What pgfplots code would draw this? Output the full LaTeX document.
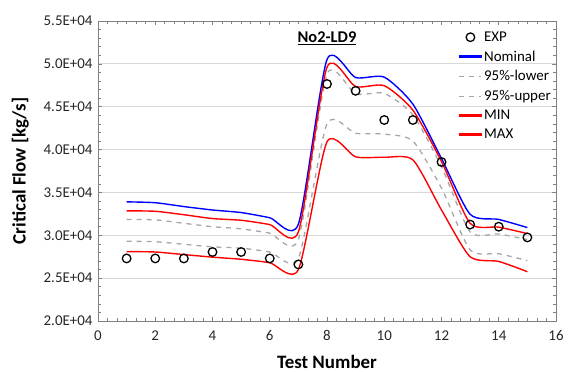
\documentclass[border=0pt]{standalone}
\usepackage{fontspec}
\setmainfont{Carlito}
\usepackage{pgfplots}
\pgfplotsset{compat=1.18}
\usepackage{pgfplotstable}
\definecolor{gridgray}{RGB}{217,217,217}
\definecolor{axisgray}{RGB}{128,128,128}
\definecolor{dashgray}{RGB}{166,166,166}
\pgfplotsset{
  legfill/.style={legend image code/.code={\fill[#1] (0bp,-0.8bp) rectangle (22bp,0.8bp);}},
  legline/.style={legend image code/.code={\draw[#1] (0bp,0bp) -- (22bp,0bp);}},
  markleg/.style={legend image code/.code={\draw[##1] plot coordinates {(11bp,0bp)};}},
}
\pgfplotstableread{
x exp nom lo95 up95 redL redU
1 27300 33900 29300 31850 28100 32850
2 27300 33800 29250 31800 28050 32800
3 27300 33350 28950 31400 27750 32400
4 28050 32950 28650 31000 27450 31950
5 28050 32650 28500 30750 27200 31750
6 27300 32050 28050 30250 26800 31250
7 26600 31300 27300 29500 26000 30400
8 47650 50500 43000 48800 40900 49600
9 46850 48400 41900 46500 39150 47350
10 43450 48450 41800 46550 39100 47450
11 43450 45300 41000 44050 38800 44600
12 38550 38950 35500 38000 32950 38600
13 31250 32450 28300 30400 27500 31400
14 31000 31850 27850 30150 26950 30950
15 29750 30900 27050 29500 25750 30200
}\datatable
\begin{document}
\begin{tikzpicture}
\begin{axis}[
  scale only axis,
  width=458bp, height=300bp,
  xmin=0, xmax=16, ymin=20000, ymax=55000,
  xtick={0,2,...,16},
  minor x tick num=5,
  ytick={20000,25000,...,55000},
  yticklabels={2.0E+04,2.5E+04,3.0E+04,3.5E+04,4.0E+04,4.5E+04,5.0E+04,5.5E+04},
  minor y tick num=4,
  scaled y ticks=false,
  /pgf/number format/assume math mode=true,
  tick align=inside,
  major tick length=4bp, minor tick length=3bp,
  tick style={axisgray, line width=0.6pt},
  axis line style={axisgray, line width=0.8pt},
  ymajorgrids, major grid style={gridgray, line width=0.8pt},
  tick label style={font=\fontsize{15}{18}\selectfont, text=black!85},
  xticklabel style={yshift=-6bp},
  yticklabel style={xshift=-2bp},
  xlabel={\textbf{Test Number}},
  ylabel={\textbf{Critical Flow [kg/s]}},
  label style={font=\fontsize{19}{23}\selectfont},
  xlabel style={yshift=-7.5bp},
  ylabel style={yshift=8bp},
  legend style={draw=none, fill=none, at={(0.785,0.975)}, anchor=north west,
    font=\fontsize{15}{18}\selectfont, row sep=4bp, inner sep=1bp},
  legend cell align=left,
  tension=0.4,
]
\addplot[only marks, mark=o, mark size=4.3bp, black, line width=1.3pt, markleg] table[x=x,y=exp]{\datatable};
\addlegendentry{EXP}
\addplot[smooth, blue, line width=1.4pt, legfill={blue}] table[x=x,y=nom]{\datatable};
\addlegendentry{Nominal}
\addplot[smooth, dashgray, line width=1.3pt, dash pattern=on 5bp off 5bp, legline={dashgray,line width=1.3pt,dash pattern=on 5bp off 5bp}] table[x=x,y=lo95]{\datatable};
\addlegendentry{95\%-lower}
\addplot[smooth, dashgray, line width=1.3pt, dash pattern=on 5bp off 5bp, legline={dashgray,line width=1.3pt,dash pattern=on 5bp off 5bp}] table[x=x,y=up95]{\datatable};
\addlegendentry{95\%-upper}
\addplot[smooth, red, line width=1.4pt, legfill={red}] table[x=x,y=redU]{\datatable};
\addlegendentry{MIN}
\addplot[smooth, red, line width=1.4pt, legfill={red}] table[x=x,y=redL]{\datatable};
\addlegendentry{MAX}
\node[font=\fontsize{16.5}{19}\selectfont] at (axis cs:8,53000) {\underline{\textbf{No2-LD9}}};
\end{axis}
\pgfresetboundingbox
\path (current axis.south west) ++(-98bp,-51bp) rectangle ++(568bp,372bp);
\end{tikzpicture}
\end{document}
